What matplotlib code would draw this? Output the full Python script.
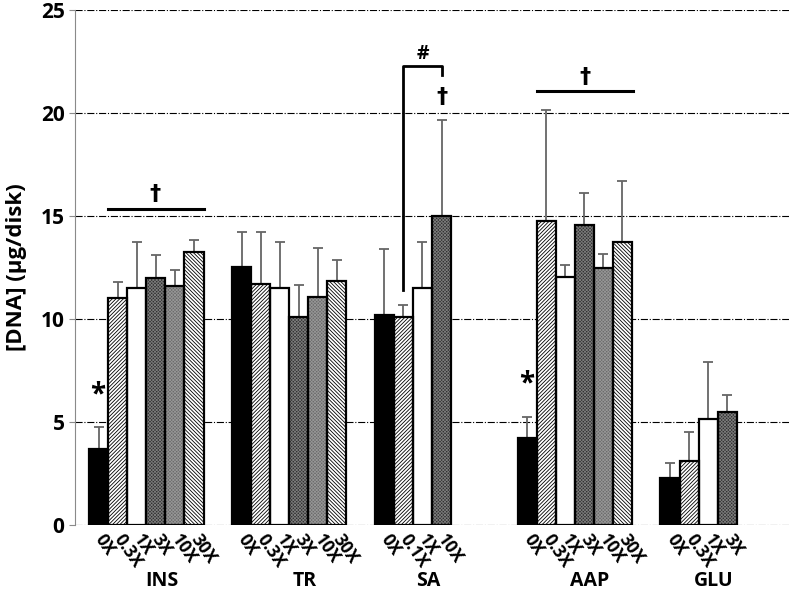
import numpy as np
import matplotlib
matplotlib.use('Agg')
import matplotlib.pyplot as plt

plt.rcParams['font.family'] = ['Open Sans', 'DejaVu Sans']
plt.rcParams['font.weight'] = 'bold'
plt.rcParams['hatch.linewidth'] = 0.6

grupos = ['INS', 'TR', 'SA', 'AAP', 'GLU']
dosis = [['0X', '0.3X', '1X', '3X', '10X', '30X'],
         ['0X', '0.3X', '1X', '3X', '10X', '30X'],
         ['0X', '0.1X', '1X', '10X'],
         ['0X', '0.3X', '1X', '3X', '10X', '30X'],
         ['0X', '0.3X', '1X', '3X']]
medias = [[3.7, 11.0, 11.5, 12.0, 11.6, 13.25],
          [12.55, 11.7, 11.5, 10.1, 11.05, 11.85],
          [10.2, 10.1, 11.5, 15.0],
          [4.25, 14.75, 12.05, 14.55, 12.5, 13.75],
          [2.3, 3.1, 5.15, 5.5]]
errores = [[1.04, 0.78, 2.25, 1.1, 0.8, 0.58],
           [1.7, 2.55, 2.25, 1.55, 2.4, 1.0],
           [3.2, 0.58, 2.24, 4.68],
           [1.02, 5.4, 0.57, 1.58, 0.67, 2.93],
           [0.7, 1.43, 2.78, 0.83]]

# estilos por posicion: (relleno, trama, color de trama)
estilos = [('black', '', 'black'),
           ('white', '/////////', 'black'),
           ('white', '', 'black'),
           ('#303030', 'xxxxxxxxxx', '#7a7a7a'),
           ('#6a6a6a', 'xxxxxxxxxx', '#959595'),
           ('white', '\\' * 9, 'black')]

ancho_grupo = 7.5

fig = plt.figure(figsize=(7.92, 5.90), dpi=100)
ax = fig.add_axes([0.0947, 0.110, 0.9015, 0.873])

xt, xl, centros = [], [], []
for i, g in enumerate(grupos):
    x = i * ancho_grupo + 1.25 + np.arange(len(medias[i]))
    for j in range(len(x)):
        fc, h, hc = estilos[j]
        ax.bar(x[j], medias[i][j], width=1.0, color=fc, hatch=h,
               edgecolor=hc, linewidth=0, zorder=3)
        ax.bar(x[j], medias[i][j], width=1.0, fill=False,
               edgecolor='black', linewidth=1.6, zorder=4)
    ax.errorbar(x, medias[i], yerr=[np.zeros(len(x)), errores[i]], fmt='none',
                ecolor='#666666', elinewidth=1.3, capsize=3.6, capthick=1.3, zorder=2)
    xt.extend(x)
    xl.extend(dosis[i])
    centros.append(x.mean())

ax.set_xlim(0, 5 * ancho_grupo)
ax.set_ylim(0, 25)
ax.set_yticks(np.arange(0, 26, 5))
ax.yaxis.grid(True, linestyle='-.', color='black', linewidth=0.8, zorder=0)
ax.set_axisbelow(True)
for s in ['top', 'right', 'bottom']:
    ax.spines[s].set_visible(False)
ax.spines['left'].set_color('#8a8a8a')
ax.tick_params(axis='y', labelsize=15, colors='#8a8a8a', length=4, labelcolor='black')
for t in ax.get_yticklabels():
    t.set_fontweight('bold')

ax.set_xticks(xt)
ax.set_xticklabels(xl, rotation=-55, ha='left', va='center', rotation_mode='anchor',
                   fontsize=12.5, fontweight='bold')
ax.tick_params(axis='x', length=0, pad=8)

tr = ax.get_xaxis_transform()
for c, g in zip(centros, grupos):
    ax.text(c + 0.8, -0.109, g, transform=tr, ha='center', va='center',
            fontsize=14, fontweight='bold')

ax.set_ylabel('[DNA] (µg/disk)', fontsize=16, fontweight='bold', labelpad=10)

# anotaciones
daga = dict(ha='center', va='center', fontsize=16, fontweight='bold',
            family=['DejaVu Sans'])
ax.text(1.2, 6.3, '*', ha='center', va='center', fontsize=20, fontweight='bold')
ax.text(23.7, 6.85, '*', ha='center', va='center', fontsize=20, fontweight='bold')
ax.plot([1.75, 6.75], [15.35, 15.35], color='black', lw=2.2, zorder=5)
ax.text(4.2, 16.05, '†', **daga)
ax.plot([24.25, 29.3], [21.05, 21.05], color='black', lw=2.2, zorder=5)
ax.text(26.8, 21.75, '†', **daga)
ax.plot([17.25, 17.25, 19.25, 19.25], [11.4, 22.3, 22.3, 21.85],
        color='black', lw=2.0, zorder=5)
ax.text(18.25, 22.85, '#', ha='center', va='center', fontsize=14, fontweight='bold')
ax.text(19.25, 20.8, '†', **daga)

plt.savefig('out.png', dpi=100)
